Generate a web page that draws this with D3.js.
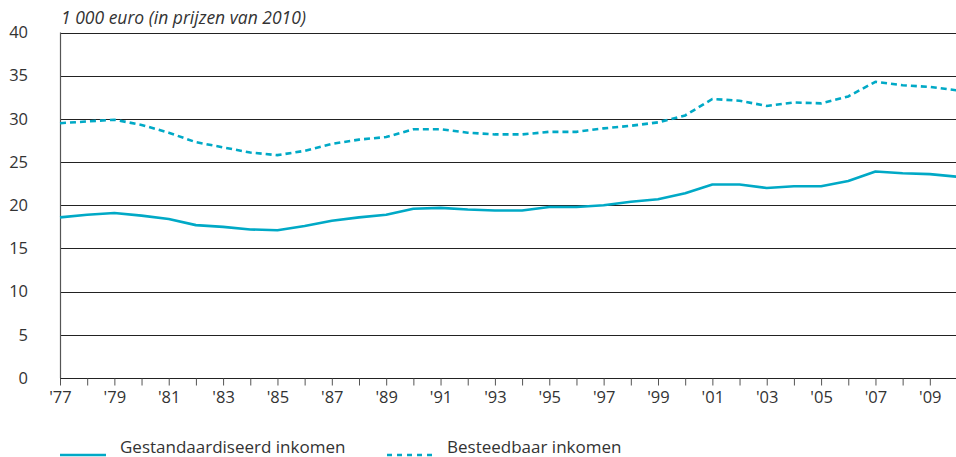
<!DOCTYPE html>
<html>
<head>
<meta charset="utf-8">
<script src="https://cdn.jsdelivr.net/npm/d3@7"></script>
<style>
  body { margin: 0; background: #fff; }
  svg { font-family: "Open Sans", "DejaVu Sans", sans-serif; }
</style>
</head>
<body>
<div id="chart"></div>
<script>
// years 1977-2010
var years = d3.range(1977, 2011);

// Gestandaardiseerd inkomen (1 000 euro)
var gestandaardiseerd = [18.6, 18.9, 19.1, 18.8, 18.4, 17.7, 17.5, 17.2, 17.1, 17.6,
  18.2, 18.6, 18.9, 19.6, 19.7, 19.5, 19.4, 19.4, 19.8, 19.8,
  20.0, 20.4, 20.7, 21.4, 22.4, 22.4, 22.0, 22.2, 22.2, 22.8,
  23.9, 23.7, 23.6, 23.3];

// Besteedbaar inkomen (1 000 euro)
var besteedbaar = [29.5, 29.7, 29.9, 29.3, 28.4, 27.3, 26.7, 26.1, 25.8, 26.3,
  27.1, 27.6, 27.9, 28.8, 28.8, 28.4, 28.2, 28.2, 28.5, 28.5,
  28.9, 29.2, 29.6, 30.4, 32.3, 32.1, 31.5, 31.9, 31.8, 32.6,
  34.3, 33.9, 33.7, 33.3];

var yTicks = [0, 5, 10, 15, 20, 25, 30, 35, 40];

var seriesNames = ["Gestandaardiseerd inkomen", "Besteedbaar inkomen"];

var w = 956, h = 457;
var color = "#00a9c6";

var svg = d3.select("#chart").append("svg")
  .attr("width", w)
  .attr("height", h);

var xScale = d3.scaleLinear()
  .domain([1977, 2010])
  .range([60, 957]);

var yScale = d3.scaleLinear()
  .domain([0, 40])
  .range([378, 32.5]);

// gridlines
svg.append("g")
  .selectAll("line")
  .data(yTicks)
  .enter()
  .append("line")
  .attr("x1", 60)
  .attr("x2", w)
  .attr("y1", function(d) { return Math.round(yScale(d)) + 0.5; })
  .attr("y2", function(d) { return Math.round(yScale(d)) + 0.5; })
  .attr("stroke", "#222")
  .attr("stroke-width", 1);

// y axis line
svg.append("line")
  .attr("x1", 60.5).attr("x2", 60.5)
  .attr("y1", yScale(40)).attr("y2", yScale(0))
  .attr("stroke", "#555")
  .attr("stroke-width", 1.2);

// y labels
svg.append("g")
  .selectAll("text")
  .data(yTicks)
  .enter()
  .append("text")
  .attr("x", 28)
  .attr("y", function(d) { return yScale(d); })
  .attr("dy", "0.35em")
  .attr("text-anchor", "end")
  .style("font-size", "16.5px")
  .style("fill", "#333")
  .text(function(d) { return d; });

// x axis ticks
var xAxis = d3.axisBottom(xScale)
  .tickValues(years)
  .tickSize(7)
  .tickFormat(function(d) { return d % 2 === 1 ? "'" + String(d).slice(2) : ""; });

var gx = svg.append("g")
  .attr("transform", "translate(0," + 378.5 + ")")
  .call(xAxis);
gx.select(".domain").remove();
gx.selectAll(".tick line").attr("stroke", "#555");
gx.selectAll(".tick text")
  .attr("y", 13)
  .style("font-size", "16.5px")
  .style("font-family", "'Open Sans', 'DejaVu Sans', sans-serif")
  .style("fill", "#333");

// unit title
svg.append("text")
  .attr("x", 61)
  .attr("y", 24)
  .style("font-size", "17.5px")
  .style("font-style", "italic")
  .style("fill", "#333")
  .text("1 000 euro (in prijzen van 2010)");

var line = d3.line()
  .x(function(d, i) { return xScale(years[i]); })
  .y(function(d) { return yScale(d); });

svg.append("path")
  .datum(gestandaardiseerd)
  .attr("fill", "none")
  .attr("stroke", color)
  .attr("stroke-width", 2.6)
  .attr("stroke-linejoin", "round")
  .attr("d", line);

svg.append("path")
  .datum(besteedbaar)
  .attr("fill", "none")
  .attr("stroke", color)
  .attr("stroke-width", 2.6)
  .attr("stroke-dasharray", "6,4")
  .attr("d", line);

// legend
var legend = svg.append("g");
var legendItems = [
  {name: seriesNames[0], x: 60, dash: null},
  {name: seriesNames[1], x: 387, dash: "5,5"}
];
legendItems.forEach(function(it) {
  legend.append("line")
    .attr("x1", it.x).attr("x2", it.x + 46)
    .attr("y1", 455).attr("y2", 455)
    .attr("stroke", color)
    .attr("stroke-width", 2.6)
    .attr("stroke-dasharray", it.dash);
  legend.append("text")
    .attr("x", it.x + 60)
    .attr("y", 453)
    .style("font-size", "17px")
    .style("fill", "#333")
    .text(it.name);
});
</script>
</body>
</html>
